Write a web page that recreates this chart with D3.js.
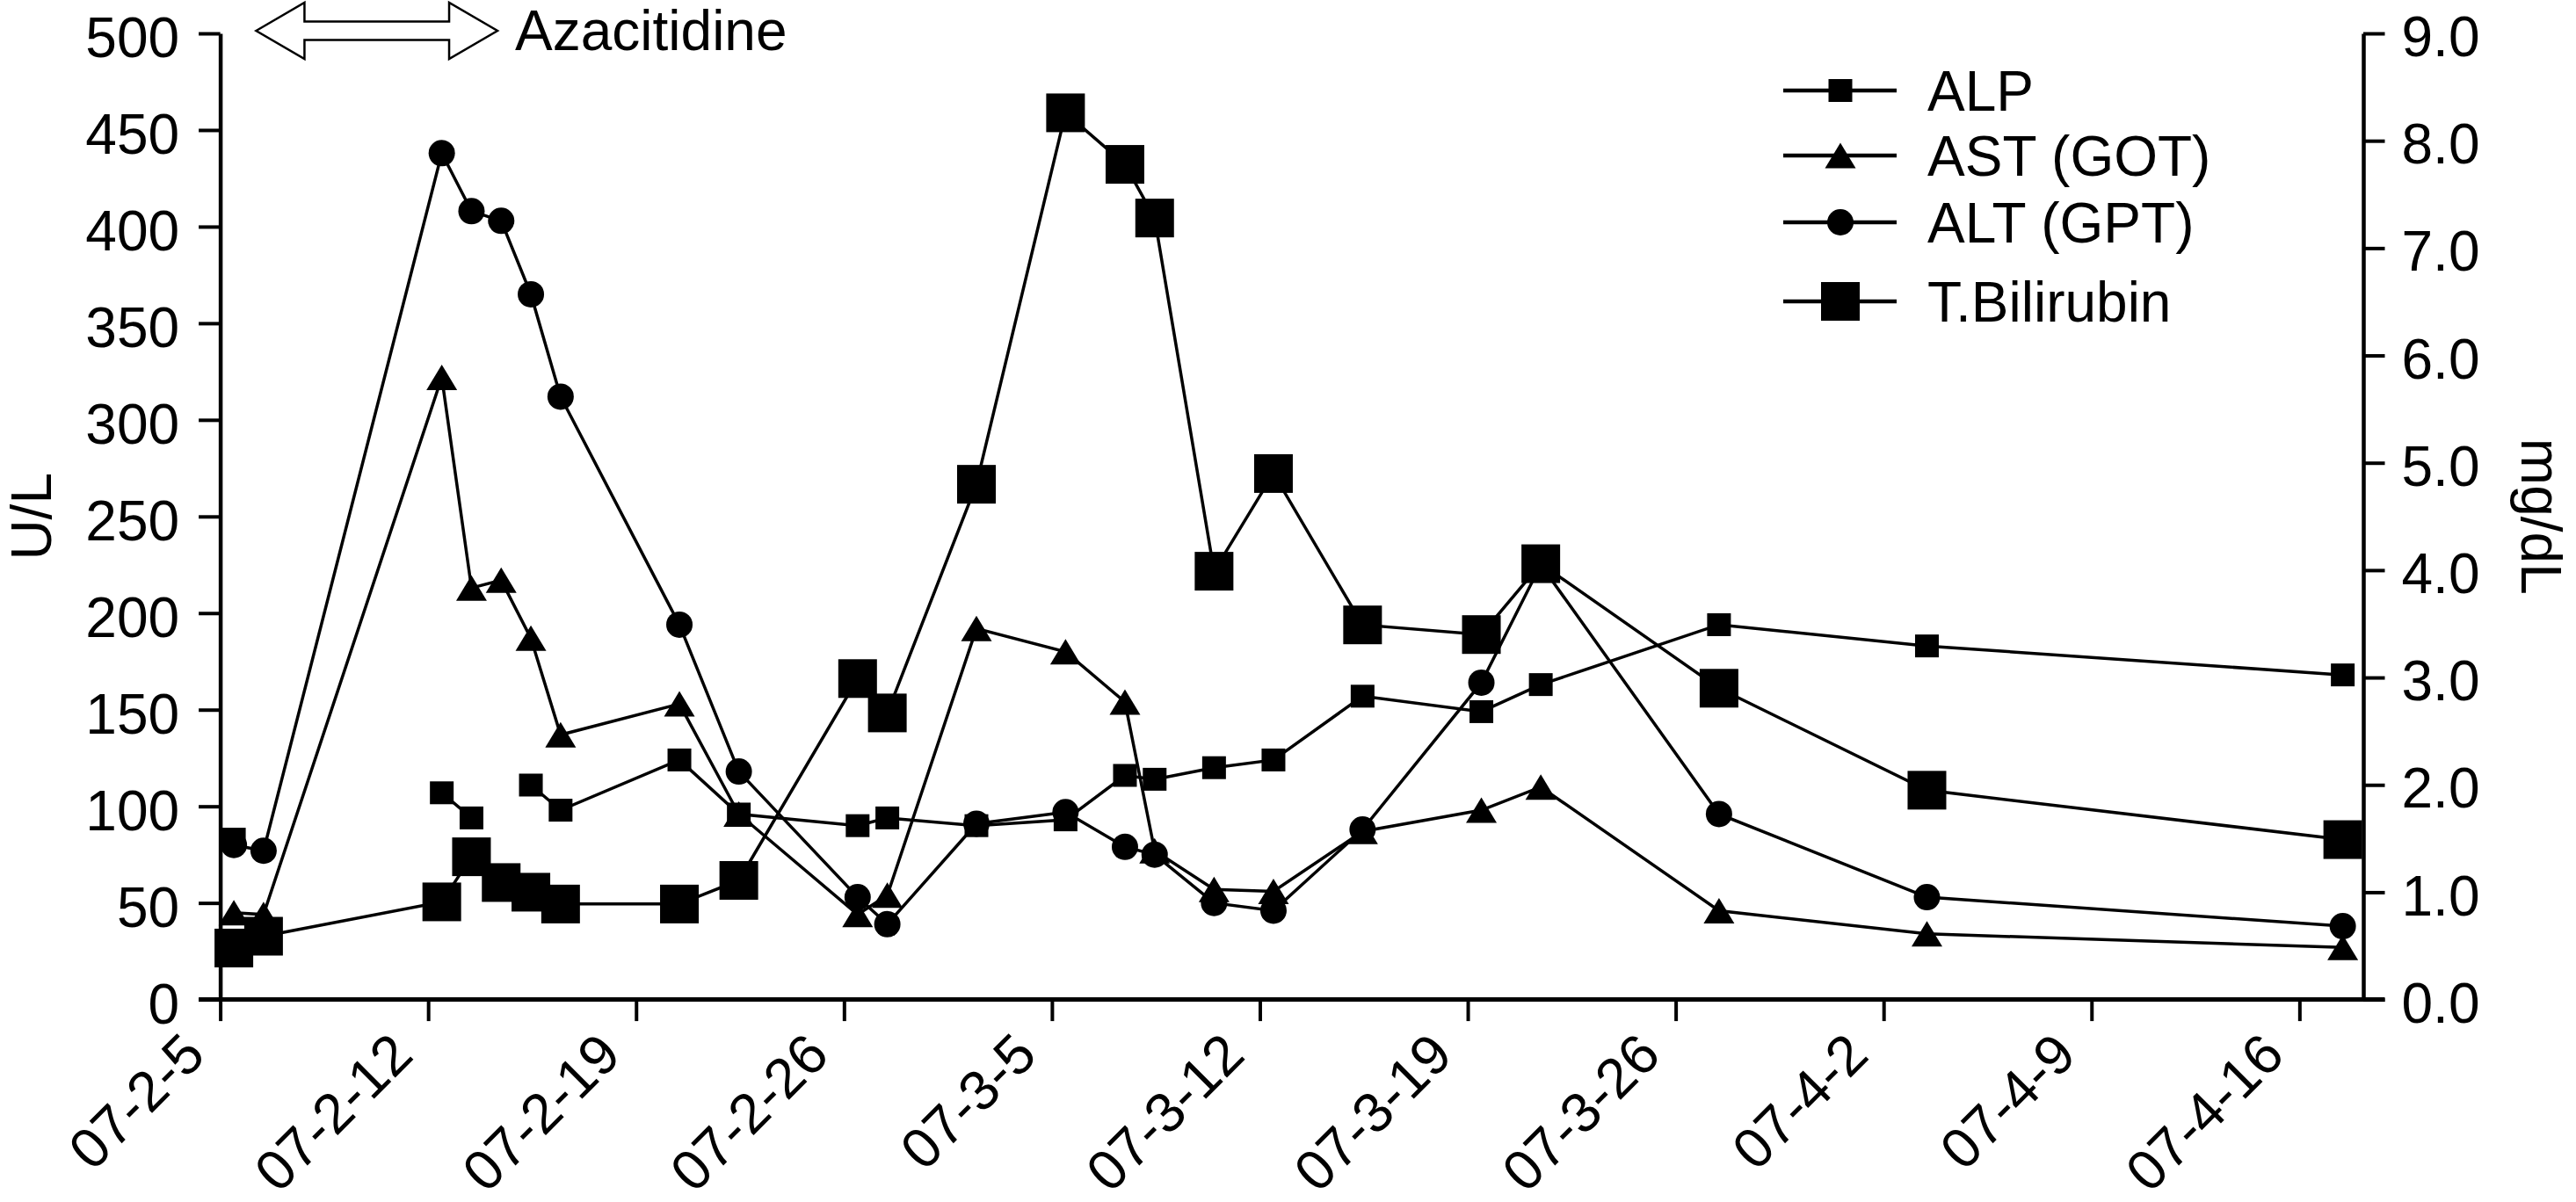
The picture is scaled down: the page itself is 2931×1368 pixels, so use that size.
<!DOCTYPE html>
<html>
<head>
<meta charset="utf-8">
<script src="https://cdn.jsdelivr.net/npm/d3@7"></script>
<style>
body { margin: 0; background: #fff; }
svg text { font-family: "Liberation Sans", Arial, Helvetica, sans-serif; font-size: 64px; fill: #000; }
.axis path, .axis line { stroke: #000; }
</style>
</head>
<body>
<svg id="chart" width="2931" height="1368"></svg>
<script>
// Sampling dates (plotted at the same hour of each day)
var dates = ["2007-02-05", "2007-02-06", "2007-02-12", "2007-02-13", "2007-02-14", "2007-02-15",
  "2007-02-16", "2007-02-20", "2007-02-22", "2007-02-26", "2007-02-27", "2007-03-02",
  "2007-03-05", "2007-03-07", "2007-03-08", "2007-03-10", "2007-03-12", "2007-03-15",
  "2007-03-19", "2007-03-21", "2007-03-27", "2007-04-03", "2007-04-17"];
var sampleTime = "11:00";

// U/L (left axis); null = not measured
var alp = [83, null, 107, 94, null, 111, 98, 124, 96, 90, 94, 90, 93, 116, 114, 120, 124, 157, 149, 163, 194, 183, 168];
var ast = [45, 44, 322, 213, 217, 187, 137, 153, 96, 44, 54, 192, 180, 154, 77, 57, 56, 87, 98, 110, 46, 34, 27];
var alt = [80, 77, 438, 408, 403, 365, 312, 194, 118, 53, 39, 91, 97, 79, 75, 50, 46, 88, 164, 225, 96, 53, 38];
// mg/dL (right axis)
var tbil = [0.48, 0.59, 0.91, 1.33, 1.09, 1.00, 0.89, 0.89, 1.11, 2.99, 2.67, 4.80, 8.26, 7.78, 7.28, 3.99, 4.90, 3.49, 3.40, 4.06, 2.90, 1.95, 1.49];

var leftTicks = [0, 50, 100, 150, 200, 250, 300, 350, 400, 450, 500];
var rightTicks = [0, 1, 2, 3, 4, 5, 6, 7, 8, 9];
var seriesNames = ["ALP", "AST (GOT)", "ALT (GPT)", "T.Bilirubin"];
var azaPeriod = ["2007-02-06 05:00", "2007-02-14 08:00"];
var azaLabel = "Azacitidine";

// layout
var plotLeft = 250.6, plotRight = 2689, plotTop = 38, plotBottom = 1137.6;
var tickLen = 24.5;

var parseTime = d3.timeParse("%Y-%m-%d %H:%M");
var fmt = d3.timeFormat("%y-%-m-%-d");

var svg = d3.select("#chart");

var xScale = d3.scaleTime()
  .domain([new Date(2007, 1, 5), new Date(2007, 3, 18, 3, 36)])
  .range([plotLeft, plotRight]);
var yLeft = d3.scaleLinear().domain([0, 500]).range([plotBottom, plotTop]);
var yRight = d3.scaleLinear().domain([0, 9]).range([plotBottom, plotTop]);

var when = dates.map(function(d) { return parseTime(d + " " + sampleTime); });

function rows(values) {
  return values.map(function(v, i) { return {date: when[i], value: v}; });
}

// ----- axes -----
var xAxis = d3.axisBottom(xScale)
  .tickValues(d3.timeMonday.range(new Date(2007, 1, 5), new Date(2007, 3, 17)))
  .tickFormat(fmt)
  .tickSize(tickLen)
  .tickSizeOuter(0);

var gx = svg.append("g").attr("class", "axis")
  .attr("transform", "translate(0," + plotBottom + ")")
  .call(xAxis);
gx.select(".domain").remove();
gx.selectAll(".tick line").attr("stroke-width", 4);
gx.selectAll(".tick text")
  .attr("x", 0).attr("y", 0).attr("dy", 0)
  .attr("transform", "translate(-15,66) rotate(-45)")
  .style("text-anchor", "end");

// baseline runs across both vertical axes' tick zones
svg.append("line")
  .attr("x1", xScale.range()[0] - tickLen).attr("x2", xScale.range()[1] + tickLen)
  .attr("y1", plotBottom).attr("y2", plotBottom)
  .attr("stroke", "#000").attr("stroke-width", 5);

var gl = svg.append("g").attr("class", "axis")
  .attr("transform", "translate(" + plotLeft + ",0)")
  .call(d3.axisLeft(yLeft).tickValues(leftTicks).tickSize(tickLen).tickSizeOuter(0).tickPadding(22));
gl.select(".domain").attr("stroke-width", 4.5);
gl.selectAll(".tick line").attr("stroke-width", 4);
gl.selectAll(".tick text").attr("dy", "0.42em");

var gr = svg.append("g").attr("class", "axis")
  .attr("transform", "translate(" + plotRight + ",0)")
  .call(d3.axisRight(yRight).tickValues(rightTicks).tickFormat(d3.format(".1f"))
    .tickSize(tickLen).tickSizeOuter(0).tickPadding(19));
gr.select(".domain").attr("stroke-width", 4.5);
gr.selectAll(".tick line").attr("stroke-width", 4);
gr.selectAll(".tick text").attr("dy", "0.4em");

svg.selectAll(".axis").attr("font-family", null).attr("font-size", null);

// axis titles
svg.append("text")
  .attr("transform", "translate(58," + ((plotTop + plotBottom) / 2) + ") rotate(-90)")
  .attr("text-anchor", "middle")
  .text("U/L");
svg.append("text")
  .attr("transform", "translate(2869," + ((plotTop + plotBottom) / 2) + ") rotate(90)")
  .attr("text-anchor", "middle")
  .text("mg/dL");

// ----- markers -----
function marker(sel, kind) {
  if (kind === "smallSquare") {
    sel.append("rect").attr("x", -13.5).attr("y", -13).attr("width", 27).attr("height", 26);
  } else if (kind === "bigSquare") {
    sel.append("rect").attr("x", -22).attr("y", -22).attr("width", 44).attr("height", 44);
  } else if (kind === "circle") {
    sel.append("circle").attr("r", 15);
  } else {
    sel.append("path").attr("d", "M0,-14.5L17.5,14.5L-17.5,14.5Z");
  }
  sel.attr("fill", "#000");
}

var series = [
  {name: seriesNames[0], data: rows(alp), y: yLeft, kind: "smallSquare"},
  {name: seriesNames[1], data: rows(ast), y: yLeft, kind: "triangle"},
  {name: seriesNames[2], data: rows(alt), y: yLeft, kind: "circle"},
  {name: seriesNames[3], data: rows(tbil), y: yRight, kind: "bigSquare"}
];

series.forEach(function(s) {
  var line = d3.line()
    .defined(function(d) { return d.value != null; })
    .x(function(d) { return xScale(d.date); })
    .y(function(d) { return s.y(d.value); });

  svg.append("path")
    .attr("d", line(s.data))
    .attr("fill", "none")
    .attr("stroke", "#000")
    .attr("stroke-width", 3.5);

  svg.append("g").selectAll("g")
    .data(s.data.filter(function(d) { return d.value != null; }))
    .enter().append("g")
    .attr("transform", function(d) { return "translate(" + xScale(d.date) + "," + s.y(d.value) + ")"; })
    .each(function() { marker(d3.select(this), s.kind); });
});

// ----- legend -----
var legendY = [103, 177, 253, 343];
var legend = svg.append("g").attr("transform", "translate(2029,0)");
series.forEach(function(s, i) {
  var g = legend.append("g").attr("transform", "translate(0," + legendY[i] + ")");
  g.append("line").attr("x1", 0).attr("x2", 129).attr("stroke", "#000").attr("stroke-width", 4.5);
  marker(g.append("g").attr("transform", "translate(65,0)"), s.kind);
  g.append("text").attr("x", 164).attr("dy", "0.36em").text(s.name);
});

// ----- Azacitidine treatment arrow -----
var ax0 = xScale(parseTime(azaPeriod[0])), ax1 = xScale(parseTime(azaPeriod[1]));
var ay = 35, head = 55, hh = 32, sh = 10.5;
svg.append("path")
  .attr("d", "M" + ax0 + "," + ay +
    "L" + (ax0 + head) + "," + (ay - hh) + "L" + (ax0 + head) + "," + (ay - sh) +
    "L" + (ax1 - head) + "," + (ay - sh) + "L" + (ax1 - head) + "," + (ay - hh) +
    "L" + ax1 + "," + ay +
    "L" + (ax1 - head) + "," + (ay + hh) + "L" + (ax1 - head) + "," + (ay + sh) +
    "L" + (ax0 + head) + "," + (ay + sh) + "L" + (ax0 + head) + "," + (ay + hh) + "Z")
  .attr("fill", "#fff")
  .attr("stroke", "#000")
  .attr("stroke-width", 2.5);
svg.append("text")
  .attr("x", ax1 + 20)
  .attr("y", 57)
  .text(azaLabel);
</script>
</body>
</html>
